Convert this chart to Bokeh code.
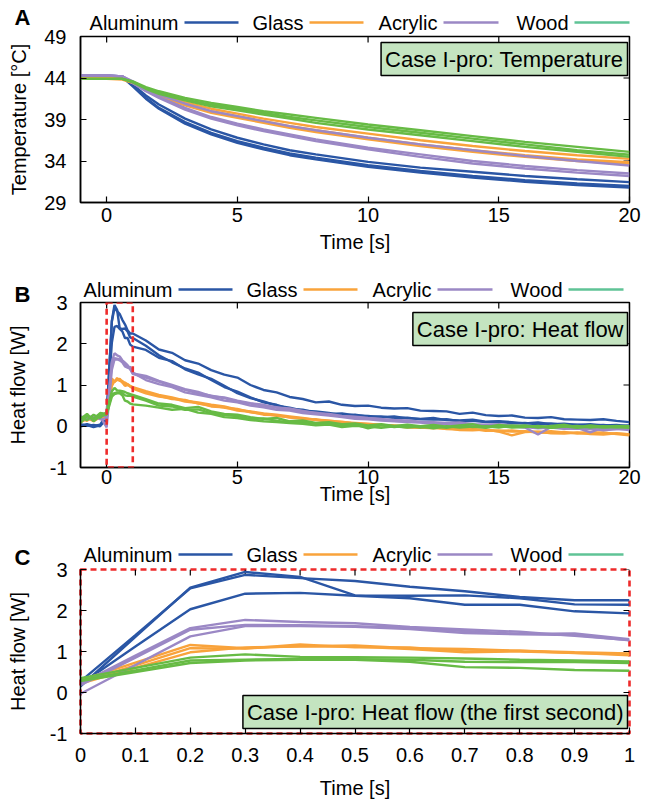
from bokeh.plotting import figure
from bokeh.models import FixedTicker, Label, BoxAnnotation, Range1d
from bokeh.core.properties import value
from bokeh.layouts import column
from bokeh.embed import file_html
from bokeh.resources import INLINE

FONT = "Liberation Sans"

# ---------------- data ----------------
materials = ["Aluminum", "Glass", "Acrylic", "Wood"]
line_colors = ["#2a56a5", "#f9a33b", "#9b88c5", "#67bb45"]
legend_colors = ["#2a56a5", "#f9a33b", "#9b88c5", "#5fc396"]

temp_ticks = [29, 34, 39, 44, 49]
heat_ticks = [-1, 0, 1, 2, 3]
heat_tick_labels = ["-1", "0", "1", "2", "3"]
time_ticks = [0, 5, 10, 15, 20]
zoom_ticks = [0, 0.1, 0.2, 0.3, 0.4, 0.5, 0.6, 0.7, 0.8, 0.9, 1]
zoom_tick_labels = ["0", "0.1", "0.2", "0.3", "0.4", "0.5", "0.6", "0.7", "0.8", "0.9", "1"]

# Panel A: temperature
temp_time = [-1, 0, 0.6, 1, 1.5, 2, 3, 4, 5, 6, 7, 8, 10, 12, 14, 16, 18, 20]
temp_aluminum = [
    [44.2, 44.2, 44.1, 43.2, 41.9, 40.8, 39.1, 37.8, 36.8, 36.0, 35.3, 34.8, 33.9, 33.2, 32.7, 32.2, 31.8, 31.45],
    [44.2, 44.2, 44.1, 43.0, 41.5, 40.3, 38.5, 37.2, 36.2, 35.4, 34.7, 34.2, 33.3, 32.6, 32.0, 31.5, 31.1, 30.8],
    [44.3, 44.3, 44.2, 43.1, 41.6, 40.4, 38.7, 37.4, 36.4, 35.6, 34.9, 34.4, 33.5, 32.8, 32.2, 31.7, 31.3, 31.0],
]
temp_glass = [
    [44.0, 44.0, 43.9, 43.5, 42.7, 42.1, 41.1, 40.3, 39.7, 39.1, 38.6, 38.1, 37.3, 36.5, 35.8, 35.2, 34.7, 34.25],
    [44.0, 44.0, 43.9, 43.4, 42.6, 41.9, 40.9, 40.0, 39.4, 38.8, 38.2, 37.7, 36.8, 36.0, 35.3, 34.7, 34.2, 33.85],
    [43.9, 43.9, 43.8, 43.4, 42.5, 41.8, 40.7, 39.8, 39.2, 38.6, 38.0, 37.5, 36.6, 35.8, 35.1, 34.5, 34.0, 33.65],
]
temp_acrylic = [
    [44.3, 44.3, 44.2, 43.6, 42.7, 42.0, 40.9, 40.0, 39.4, 38.8, 38.2, 37.7, 36.8, 36.0, 35.3, 34.6, 34.0, 33.45],
    [44.3, 44.3, 44.2, 43.5, 42.5, 41.7, 40.4, 39.3, 38.5, 37.8, 37.2, 36.6, 35.6, 34.8, 34.0, 33.4, 32.9, 32.5],
    [44.3, 44.3, 44.2, 43.4, 42.4, 41.6, 40.2, 39.1, 38.3, 37.6, 37.0, 36.4, 35.4, 34.5, 33.7, 33.1, 32.6, 32.2],
]
temp_wood = [
    [43.9, 43.9, 43.9, 43.6, 42.9, 42.4, 41.6, 41.0, 40.5, 40.0, 39.6, 39.2, 38.4, 37.7, 37.0, 36.3, 35.7, 35.1],
    [43.9, 43.9, 43.9, 43.5, 42.8, 42.2, 41.4, 40.8, 40.3, 39.8, 39.3, 38.9, 38.1, 37.4, 36.7, 36.0, 35.3, 34.75],
    [43.9, 43.9, 43.9, 43.5, 42.7, 42.1, 41.3, 40.6, 40.1, 39.6, 39.1, 38.6, 37.8, 37.1, 36.4, 35.7, 35.1, 34.5],
]

# Panel C: heat flow, first second
zoom_time = [0, 0.1, 0.2, 0.3, 0.4, 0.5, 0.6, 0.7, 0.8, 0.9, 1.0]
zoom_aluminum = [
    [0.15, 1.36, 2.56, 2.94, 2.82, 2.37, 2.36, 2.37, 2.30, 2.15, 2.14],
    [0.27, 1.40, 2.54, 2.87, 2.79, 2.72, 2.58, 2.47, 2.33, 2.25, 2.25],
    [0.20, 1.12, 2.03, 2.41, 2.43, 2.36, 2.30, 2.14, 2.14, 1.98, 1.93],
]
zoom_glass = [
    [0.30, 0.73, 1.16, 1.08, 1.13, 1.15, 1.08, 1.06, 1.02, 0.98, 0.95],
    [0.25, 0.66, 1.08, 1.07, 1.17, 1.10, 1.10, 1.00, 1.02, 0.96, 0.93],
    [0.22, 0.60, 0.98, 1.10, 1.12, 1.12, 1.06, 0.98, 1.00, 0.97, 0.91],
]
zoom_acrylic = [
    [-0.03, 0.67, 1.37, 1.62, 1.62, 1.60, 1.55, 1.45, 1.42, 1.40, 1.27],
    [0.18, 0.85, 1.53, 1.65, 1.64, 1.62, 1.58, 1.50, 1.43, 1.44, 1.30],
    [0.22, 0.90, 1.57, 1.77, 1.72, 1.69, 1.60, 1.54, 1.48, 1.38, 1.28],
]
zoom_wood = [
    [0.35, 0.60, 0.85, 0.93, 0.87, 0.86, 0.85, 0.83, 0.80, 0.78, 0.76],
    [0.30, 0.54, 0.78, 0.80, 0.82, 0.81, 0.80, 0.75, 0.74, 0.74, 0.72],
    [0.28, 0.50, 0.72, 0.78, 0.80, 0.80, 0.75, 0.62, 0.60, 0.55, 0.53],
]

# Panel B: heat flow before t=0 and after t=1 (t in [0,1] is the data of panel C)
pre_time = [-1, -0.75, -0.5, -0.25]
pre_aluminum = [[0.00, 0.03, -0.02, 0.02], [0.02, 0.05, 0.01, 0.04], [0.05, 0.01, 0.03, 0.00]]
pre_glass = [[0.15, 0.20, 0.12, 0.22], [0.10, 0.18, 0.16, 0.20], [0.20, 0.13, 0.24, 0.18]]
pre_acrylic = [[0.18, 0.22, 0.15, 0.24], [0.12, 0.20, 0.25, 0.17], [0.25, 0.16, 0.21, 0.28]]
pre_wood = [[0.22, 0.15, 0.28, 0.20], [0.08, 0.25, 0.18, 0.32], [0.18, 0.30, 0.12, 0.26]]

tail_time = [1.5, 2, 2.5, 3, 3.5, 4, 4.5, 5, 5.5, 6, 6.5, 7, 7.5, 8, 8.5, 9, 9.5, 10,
             10.5, 11, 11.5, 12, 12.5, 13, 13.5, 14, 14.5, 15, 15.5, 16, 16.5, 17,
             17.5, 18, 18.5, 19, 19.5, 20]
tail_aluminum = [
    [1.95, 1.72, 1.55, 1.40, 1.30, 1.12, 0.95, 0.84, 0.70, 0.58, 0.52, 0.42, 0.40, 0.33, 0.30, 0.31, 0.26, 0.25,
     0.22, 0.24, 0.19, 0.18, 0.20, 0.15, 0.14, 0.16, 0.11, 0.12, 0.10, 0.07, 0.09, 0.05, 0.06, 0.03, 0.05, 0.02, 0.03, 0.00],
    [2.08, 1.86, 1.78, 1.60, 1.52, 1.36, 1.25, 1.18, 1.00, 0.88, 0.82, 0.71, 0.66, 0.58, 0.60, 0.52, 0.49, 0.50,
     0.45, 0.43, 0.44, 0.38, 0.37, 0.36, 0.30, 0.33, 0.27, 0.25, 0.26, 0.21, 0.20, 0.22, 0.17, 0.16, 0.15, 0.17, 0.13, 0.10],
    [1.85, 1.66, 1.58, 1.38, 1.26, 1.15, 0.98, 0.80, 0.68, 0.60, 0.50, 0.45, 0.38, 0.36, 0.32, 0.27, 0.28, 0.23,
     0.24, 0.20, 0.21, 0.17, 0.16, 0.17, 0.12, 0.13, 0.10, 0.11, 0.07, 0.08, 0.05, 0.07, 0.03, 0.04, 0.02, 0.03, 0.00, 0.02],
]
tail_glass = [
    [0.85, 0.76, 0.70, 0.62, 0.58, 0.52, 0.48, 0.40, 0.36, 0.31, 0.28, 0.24, 0.20, 0.16, 0.14, 0.10, 0.08, 0.06,
     0.03, 0.02, 0.00, -0.02, -0.03, -0.06, -0.05, -0.08, -0.09, -0.12, -0.10, -0.13, -0.14, -0.12, -0.15, -0.16, -0.14, -0.17, -0.18, -0.19],
    [0.82, 0.74, 0.66, 0.64, 0.55, 0.50, 0.45, 0.42, 0.34, 0.30, 0.25, 0.22, 0.19, 0.15, 0.12, 0.11, 0.06, 0.05,
     0.04, 0.00, -0.01, -0.04, -0.02, -0.07, -0.08, -0.06, -0.11, -0.10, -0.13, -0.12, -0.15, -0.16, -0.14, -0.18, -0.17, -0.15, -0.19, -0.22],
    [0.80, 0.72, 0.68, 0.60, 0.56, 0.48, 0.46, 0.38, 0.35, 0.28, 0.27, 0.21, 0.18, 0.17, 0.11, 0.09, 0.07, 0.03,
     0.02, 0.01, -0.03, -0.03, -0.05, -0.04, -0.09, -0.10, -0.08, -0.13, -0.22, -0.14, -0.13, -0.17, -0.18, -0.15, -0.19, -0.20, -0.17, -0.20],
]
tail_acrylic = [
    [1.18, 1.08, 0.98, 0.88, 0.80, 0.74, 0.68, 0.60, 0.55, 0.50, 0.46, 0.40, 0.36, 0.33, 0.28, 0.24, 0.22, 0.19,
     0.17, 0.15, 0.14, 0.11, 0.10, 0.08, 0.09, 0.05, 0.04, 0.05, 0.02, 0.00, -0.02, 0.01, -0.03, -0.04, -0.15, -0.03, -0.06, -0.05],
    [1.12, 1.02, 0.95, 0.82, 0.76, 0.70, 0.62, 0.58, 0.50, 0.46, 0.40, 0.38, 0.32, 0.29, 0.26, 0.22, 0.18, 0.17,
     0.14, 0.12, 0.10, 0.09, 0.06, 0.07, 0.03, 0.04, 0.01, 0.02, -0.01, -0.02, -0.05, -0.03, -0.06, -0.05, -0.07, -0.08, -0.06, -0.09],
    [1.22, 1.10, 1.00, 0.90, 0.83, 0.73, 0.70, 0.62, 0.56, 0.52, 0.45, 0.43, 0.37, 0.31, 0.30, 0.25, 0.23, 0.20,
     0.18, 0.13, 0.12, 0.10, 0.08, 0.05, 0.06, 0.03, 0.02, -0.01, 0.00, -0.03, -0.20, -0.02, -0.05, -0.06, -0.05, -0.10, -0.07, -0.06],
]
tail_wood = [
    [0.66, 0.55, 0.52, 0.44, 0.47, 0.36, 0.30, 0.28, 0.22, 0.18, 0.20, 0.12, 0.14, 0.08, 0.10, 0.05, 0.07, 0.02,
     0.05, 0.01, 0.04, 0.00, 0.03, -0.01, 0.02, 0.05, -0.02, 0.03, 0.00, 0.02, -0.03, 0.01, 0.04, -0.02, 0.02, -0.01, 0.01, 0.00],
    [0.62, 0.50, 0.48, 0.40, 0.41, 0.32, 0.27, 0.25, 0.17, 0.19, 0.13, 0.10, 0.11, 0.05, 0.07, 0.01, 0.04, -0.05,
     0.02, -0.02, 0.01, -0.03, 0.00, -0.04, 0.01, -0.02, 0.00, -0.03, 0.02, -0.01, 0.00, -0.04, -0.01, 0.01, -0.03, 0.00, -0.02, -0.01],
    [0.50, 0.45, 0.40, 0.42, 0.33, 0.30, 0.22, 0.20, 0.15, 0.12, 0.10, 0.08, 0.06, 0.02, 0.04, -0.02, 0.01, -0.01,
     -0.04, 0.00, -0.03, -0.01, -0.05, 0.00, -0.03, -0.01, -0.04, 0.01, -0.03, -0.02, 0.01, -0.03, 0.00, -0.04, -0.01, -0.03, -0.02, -0.04],
]

temp_series = [temp_aluminum, temp_glass, temp_acrylic, temp_wood]
zoom_series = [zoom_aluminum, zoom_glass, zoom_acrylic, zoom_wood]
pre_series = [pre_aluminum, pre_glass, pre_acrylic, pre_wood]
tail_series = [tail_aluminum, tail_glass, tail_acrylic, tail_wood]

# ---------------- layout constants (page pixels) ----------------
FIG_W = 650
FRAME_L, FRAME_R = 80, 629
TICK_FS = "20px"
TICK_LEN = 6
LEGEND_SEGS = [(184, 238), (309, 363), (443, 498), (574, 629)]


class Panel:
    def __init__(self, fig_top, height, top_b, bottom_b, xr, yr):
        self.fig_top, self.height = fig_top, height
        self.top_b, self.bottom_b = top_b, bottom_b
        self.frame_top = fig_top + top_b
        self.frame_bottom = fig_top + height - bottom_b
        self.xr, self.yr = xr, yr

    def dx(self, npx):
        return npx * (self.xr[1] - self.xr[0]) / (FRAME_R - FRAME_L)

    def dy(self, npx):
        return npx * (self.yr[1] - self.yr[0]) / (self.frame_bottom - self.frame_top)

    def xd(self, px):
        return self.xr[0] + self.dx(px - FRAME_L)

    def yd(self, py):
        return self.yr[1] - self.dy(py - self.frame_top)


def make_fig(pn, margin_top, xticks, xlabels, yticks, ylabels, ylabel,
             x_std, x_lab_std, y_std, y_lab_std):
    p = figure(width=FIG_W, height=pn.height, output_backend="svg", toolbar_location=None,
               x_range=Range1d(*pn.xr), y_range=Range1d(*pn.yr),
               min_border_left=FRAME_L, min_border_right=FIG_W - FRAME_R,
               min_border_top=pn.top_b, min_border_bottom=pn.bottom_b,
               margin=(margin_top, 0, 0, 0))
    p.xgrid.visible = False
    p.ygrid.visible = False
    p.outline_line_color = "black"
    p.outline_line_width = 1.5
    p.outline_line_alpha = 1
    p.background_fill_color = "white"
    p.border_fill_color = "white"
    p.border_fill_alpha = 0

    p.xaxis.ticker = FixedTicker(ticks=xticks)
    p.xaxis.major_label_overrides = {t: l for t, l in zip(xticks, xlabels)}
    p.yaxis.ticker = FixedTicker(ticks=yticks)
    p.yaxis.major_label_overrides = {t: l for t, l in zip(yticks, ylabels)}
    p.xaxis.axis_label = "Time [s]"
    p.yaxis.axis_label = ylabel
    p.xaxis.major_label_standoff = x_std
    p.xaxis.axis_label_standoff = x_lab_std
    p.yaxis.major_label_standoff = y_std
    p.yaxis.axis_label_standoff = y_lab_std
    for ax in p.axis:
        ax.axis_line_color = "black"
        ax.axis_line_width = 1.5
        ax.major_tick_in = TICK_LEN
        ax.major_tick_out = 0
        ax.major_tick_line_color = "black"
        ax.major_tick_line_width = 1.2
        ax.minor_tick_line_color = None
        ax.major_label_text_font = FONT
        ax.major_label_text_font_size = TICK_FS
        ax.major_label_text_color = "black"
        ax.axis_label_text_font = FONT
        ax.axis_label_text_font_size = TICK_FS
        ax.axis_label_text_font_style = "normal"
        ax.axis_label_text_color = "black"

    # mirrored inward ticks on the top and right edges
    y_top, x_right = pn.yr[1], pn.xr[1]
    p.segment(x0=xticks, x1=xticks, y0=[y_top] * len(xticks),
              y1=[y_top - pn.dy(TICK_LEN)] * len(xticks), line_color="black", line_width=1.2)
    p.segment(x0=[x_right] * len(yticks), x1=[x_right - pn.dx(TICK_LEN)] * len(yticks),
              y0=yticks, y1=yticks, line_color="black", line_width=1.2)
    return p


def make_legend_fig(top, height, letter, letter_y, legend_y, shift):
    p = figure(width=FIG_W, height=height, output_backend="svg", toolbar_location=None,
               x_range=Range1d(0, FIG_W), y_range=Range1d(top + height, top),
               x_axis_type=None, y_axis_type=None,
               min_border=0, min_border_left=0, min_border_right=0,
               min_border_top=0, min_border_bottom=0, frame_align=False)
    p.outline_line_color = None
    p.background_fill_color = "white"
    p.border_fill_color = "white"
    p.text(x=[22], y=[letter_y], text=[letter], text_font=value(FONT),
           text_font_size=value("22px"), text_font_style=value("bold"),
           text_align=value("center"), text_baseline=value("middle"), text_color="black")
    s0 = [s[0] + shift for s in LEGEND_SEGS]
    s1 = [s[1] + shift for s in LEGEND_SEGS]
    p.text(x=[s - 6 for s in s0], y=[legend_y] * len(materials), text=materials,
           text_font=value(FONT), text_font_size=value(TICK_FS), text_align=value("right"),
           text_baseline=value("middle"), text_color="black")
    p.segment(x0=s0, x1=s1, y0=[legend_y] * len(materials), y1=[legend_y] * len(materials),
              line_color=legend_colors, line_width=2.6)
    return p


def add_caption(p, pn, text, right_px, y_px, baseline):
    p.add_layout(Label(x=pn.xd(right_px), y=pn.yd(y_px), text=text,
                       text_font=FONT, text_font_size="22px", text_align="right",
                       text_baseline=baseline, text_color="black",
                       background_fill_color="#c4e4c0", background_fill_alpha=1,
                       border_line_color="black", border_line_width=1.5, padding=4))


# ---------------- Panel A ----------------
legA = make_legend_fig(0, 40, "A", 17, 22, 0)
pA = Panel(fig_top=10, height=248, top_b=26, bottom_b=56, xr=(-1, 20), yr=(29, 49))
figA = make_fig(pA, -30, time_ticks, [str(t) for t in time_ticks], temp_ticks,
                [str(t) for t in temp_ticks], "Temperature [°C]",
                x_std=5, x_lab_std=6, y_std=14, y_lab_std=11)
for col, group in zip(line_colors, temp_series):
    for ys in group:
        figA.line(temp_time, ys, line_color=col, line_width=2.4)
add_caption(figA, pA, "Case I-pro: Temperature", 627, 42, "top")

# ---------------- Panel B ----------------
legB = make_legend_fig(258, 50, "B", 294, 289, -6)
pB = Panel(fig_top=278, height=247, top_b=24, bottom_b=58, xr=(-1, 20), yr=(-1, 3))
figB = make_fig(pB, -30, time_ticks, [str(t) for t in time_ticks], heat_ticks, heat_tick_labels,
                "Heat flow [W]", x_std=2, x_lab_std=-4, y_std=13, y_lab_std=18)
for col, pre_g, zoom_g, tail_g in zip(line_colors, pre_series, zoom_series, tail_series):
    for pre, zm, tl in zip(pre_g, zoom_g, tail_g):
        figB.line(pre_time + zoom_time + tail_time, pre + zm + tl, line_color=col, line_width=2.4)
figB.add_layout(BoxAnnotation(left=0, right=1, bottom=-1, top=3, fill_alpha=0,
                              line_color="#ee2b2b", line_alpha=1, line_width=2.6, line_dash="6 4"))
add_caption(figB, pB, "Case I-pro: Heat flow", 627, 312, "top")

# ---------------- Panel C ----------------
legC = make_legend_fig(525, 50, "C", 557, 554, -6)
pC = Panel(fig_top=545, height=260, top_b=24, bottom_b=72, xr=(0, 1), yr=(-1, 3))
figC = make_fig(pC, -30, zoom_ticks, zoom_tick_labels, heat_ticks, heat_tick_labels,
                "Heat flow [W]", x_std=14, x_lab_std=12, y_std=13, y_lab_std=18)
for col, group in zip(line_colors, zoom_series):
    for ys in group:
        figC.line(zoom_time, ys, line_color=col, line_width=2.4)
figC.outline_line_color = "#ee2b2b"
figC.outline_line_width = 2.6
figC.outline_line_dash = "6 4"
add_caption(figC, pC, "Case I-pro: Heat flow (the first second)", 627, 728, "bottom")

layout = column(legA, figA, legB, figB, legC, figC, spacing=0)
open("out.html", "w").write(file_html(layout, INLINE))
